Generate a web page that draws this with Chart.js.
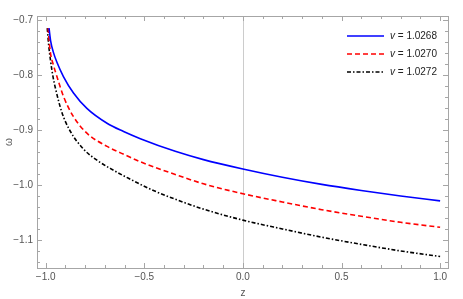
<!DOCTYPE html>
<html>
<head>
<meta charset="utf-8">
<script src="https://cdn.jsdelivr.net/npm/chart.js@4"></script>
<style>
  html, body { margin: 0; padding: 0; background: #fff; }
  #wrap { width: 463px; height: 299px; }
</style>
</head>
<body>
<div id="wrap"><canvas id="c" width="463" height="299"></canvas></div>
<script>
// values
const seriesNames = ['1.0268', '1.0270', '1.0272'];

const zBlue = [-0.983, -0.975, -0.960, -0.943, -0.910, -0.859, -0.791, -0.689, -0.605, -0.520, -0.343, -0.200, 0, 0.2, 0.4, 0.6, 0.8, 1.0];
const wBlue = [-0.715, -0.738, -0.760, -0.777, -0.803, -0.833, -0.861, -0.888, -0.903, -0.916, -0.939, -0.954, -0.971, -0.986, -0.999, -1.010, -1.020, -1.029];

const zRed = [-0.988, -0.977, -0.960, -0.943, -0.910, -0.859, -0.791, -0.689, -0.588, -0.520, -0.343, -0.200, 0, 0.2, 0.4, 0.6, 0.8, 1.0];
const wRed = [-0.715, -0.757, -0.783, -0.803, -0.839, -0.876, -0.906, -0.930, -0.947, -0.958, -0.981, -0.998, -1.016, -1.031, -1.045, -1.057, -1.068, -1.077];

const zBlack = [-0.992, -0.985, -0.975, -0.962, -0.952, -0.918, -0.876, -0.808, -0.740, -0.673, -0.580, -0.461, -0.343, -0.200, 0, 0.2, 0.4, 0.6, 0.8, 1.0];
const wBlack = [-0.715, -0.745, -0.775, -0.805, -0.822, -0.868, -0.902, -0.935, -0.955, -0.970, -0.988, -1.009, -1.026, -1.044, -1.064, -1.080, -1.095, -1.108, -1.120, -1.130];

const xTicks = [-1.0, -0.5, 0.0, 0.5, 1.0];
const yTicks = [-1.1, -1.0, -0.9, -0.8, -0.7];

function pts(xs, ys) {
    return xs.map((x, i) => ({ x: x, y: ys[i] }));
}

function fmt(v) {
    return (v < 0 ? '\u2212' : '') + Math.abs(v).toFixed(1);
}

const frameColor = '#a6a6a6';
const textColor = '#555555';
const fontFamily = '"Liberation Sans", Arial, sans-serif';

// frame with inward ticks, the zero line, axis labels and the legend
const framePlugin = {
    id: 'frame',
    beforeDatasetsDraw(chart) {
        const ctx = chart.ctx;
        const a = chart.chartArea;
        const px = Math.round(chart.scales.x.getPixelForValue(0)) + 0.5;
        ctx.save();
        ctx.strokeStyle = '#cccccc';
        ctx.lineWidth = 1;
        ctx.beginPath();
        ctx.moveTo(px, a.top);
        ctx.lineTo(px, a.bottom);
        ctx.stroke();
        ctx.restore();
    },
    afterDraw(chart) {
        const ctx = chart.ctx;
        const a = chart.chartArea;
        const xs = chart.scales.x;
        const ys = chart.scales.y;
        ctx.save();
        ctx.strokeStyle = frameColor;
        ctx.lineWidth = 1;
        ctx.strokeRect(Math.round(a.left) + 0.5, Math.round(a.top) + 0.5,
            Math.round(a.right - a.left), Math.round(a.bottom - a.top));

        ctx.beginPath();
        for (let i = -10; i <= 10; i++) {
            const p = Math.round(xs.getPixelForValue(i / 10)) + 0.5;
            const len = (i % 5 === 0) ? 5 : 3;
            ctx.moveTo(p, a.bottom);
            ctx.lineTo(p, a.bottom - len);
            ctx.moveTo(p, a.top);
            ctx.lineTo(p, a.top + len);
        }
        for (let i = -57; i <= -35; i++) {
            const p = Math.round(ys.getPixelForValue(i / 50)) + 0.5;
            const len = (i % 5 === 0) ? 5 : 3;
            ctx.moveTo(a.left, p);
            ctx.lineTo(a.left + len, p);
            ctx.moveTo(a.right, p);
            ctx.lineTo(a.right - len, p);
        }
        ctx.stroke();

        // axis titles
        ctx.fillStyle = textColor;
        ctx.font = '10px ' + fontFamily;
        ctx.textAlign = 'center';
        ctx.textBaseline = 'middle';
        ctx.fillText('z', xs.getPixelForValue(0), 293);
        ctx.save();
        ctx.translate(9, 142);
        ctx.rotate(-Math.PI / 2);
        ctx.fillText('\u03c9', 0, 0);
        ctx.restore();

        // legend
        const x0 = a.right - 101;
        const x1 = a.right - 64;
        chart.data.datasets.forEach((ds, i) => {
            const y = a.top + 20 + i * 18;
            ctx.strokeStyle = ds.borderColor;
            ctx.lineWidth = ds.borderWidth;
            ctx.setLineDash(ds.borderDash || []);
            ctx.beginPath();
            ctx.moveTo(x0, y);
            ctx.lineTo(x1, y);
            ctx.stroke();
            ctx.setLineDash([]);
            ctx.textAlign = 'left';
            ctx.fillStyle = '#222222';
            ctx.font = 'italic 10px ' + fontFamily;
            const tx = a.right - 58;
            ctx.fillText('v', tx, y);
            const w = ctx.measureText('v').width;
            ctx.font = '10px ' + fontFamily;
            ctx.fillText(' = ' + seriesNames[i], tx + w, y);
        });
        ctx.restore();
    }
};

const ctx = document.getElementById('c').getContext('2d');
new Chart(ctx, {
    type: 'scatter',
    data: {
        datasets: [{
            label: 'v = ' + seriesNames[0],
            data: pts(zBlue, wBlue),
            borderColor: '#0000ff',
            borderWidth: 1.6,
            showLine: true,
            pointRadius: 0,
            cubicInterpolationMode: 'monotone'
        }, {
            label: 'v = ' + seriesNames[1],
            data: pts(zRed, wRed),
            borderColor: '#ff0000',
            borderWidth: 1.6,
            borderDash: [5, 3],
            showLine: true,
            pointRadius: 0,
            cubicInterpolationMode: 'monotone'
        }, {
            label: 'v = ' + seriesNames[2],
            data: pts(zBlack, wBlack),
            borderColor: '#000000',
            borderWidth: 1.6,
            borderDash: [4, 2, 1.5, 2],
            showLine: true,
            pointRadius: 0,
            cubicInterpolationMode: 'monotone'
        }]
    },
    options: {
        responsive: false,
        animation: false,
        layout: { padding: { top: 16, right: 15, left: 0, bottom: 0 } },
        plugins: {
            legend: { display: false },
            tooltip: { enabled: false }
        },
        scales: {
            x: {
                type: 'linear',
                min: -1.044,
                max: 1.04,
                grid: { display: false, drawTicks: false },
                border: { display: false },
                afterBuildTicks: s => { s.ticks = xTicks.map(v => ({ value: v })); },
                afterFit: s => { s.height = 31; },
                ticks: {
                    padding: 3,
                    color: textColor,
                    font: { size: 10, family: fontFamily },
                    callback: v => fmt(v),
                    maxRotation: 0
                }
            },
            y: {
                type: 'linear',
                min: -1.151,
                max: -0.693,
                grid: { display: false, drawTicks: false },
                border: { display: false },
                afterBuildTicks: s => { s.ticks = yTicks.map(v => ({ value: v })); },
                afterFit: s => { s.width = 37; },
                ticks: {
                    padding: 4,
                    color: textColor,
                    font: { size: 10, family: fontFamily },
                    callback: v => fmt(v)
                }
            }
        }
    },
    plugins: [framePlugin]
});
</script>
</body>
</html>
